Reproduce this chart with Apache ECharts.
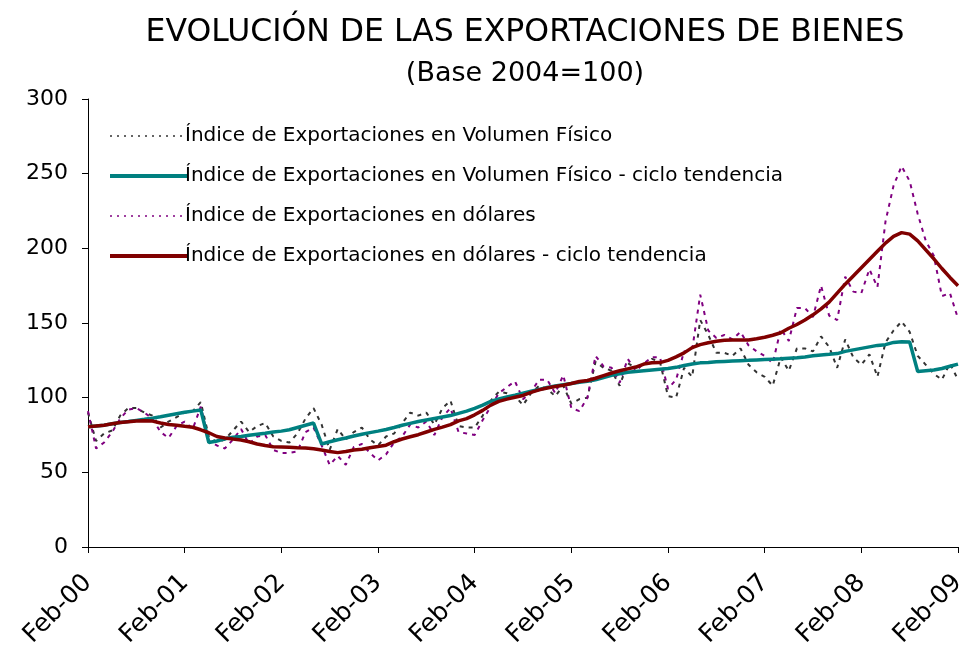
<!DOCTYPE html>
<html>
<head>
<meta charset="UTF-8">
<title>Evolución de las exportaciones de bienes</title>
<script src="https://cdn.jsdelivr.net/npm/echarts@6/dist/echarts.min.js"></script>
<style>
body { margin: 0; padding: 0; background: #fff; }
#main { width: 959px; height: 649px; }
</style>
</head>
<body>
<div id="main"></div>
<script>
// etiquetas mensuales Feb-00 ... Feb-09
var meses = ['Jan','Feb','Mar','Apr','May','Jun','Jul','Aug','Sep','Oct','Nov','Dec'];
var categorias = [];
for (var i = 0; i < 109; i++) {
    var m = (1 + i) % 12, a = 2000 + Math.floor((1 + i) / 12);
    categorias.push(meses[m] + '-' + String(a).slice(2));
}

var volumen = [90,71,76,78,88,93,93,90,88,80,84,87,90,91,97,74,70,
    72,78,84,77,81,83,74,71,70,76,86,93,82,65,79,72,77,80,72,68,74,76,
    83,90,88,90,82,93,98,81,80,
    80,88,98,104,103,101,95,103,108,106,101,108,96,99,100,
    124,120,118,108,123,120,122,126,124,101,100,120,114,152,142,
    130,130,128,133,122,117,114,108,127,118,133,133,131,141,134,120,
    139,127,122,129,114,137,145,151,144,128,122,116,112,123,112];

var volumenTendencia = [80.5,81,81.6,82.5,83.3,84,84.8,85.5,86.3,87.2,88.2,89.2,90.2,91,91.8,
    70,71,72.5,73.5,74,74.8,75.5,76.2,77,77.6,78.5,80,81.5,83,
    69,70.5,71.8,73,74.3,75.5,76.6,77.6,78.7,80,81.5,82.8,84,85,86,87,88,89.5,91,92.8,95,97.5,
    99.2,100.5,101.7,103,104.3,105.5,106.8,107.8,108.7,109.5,110.3,111,112,113.5,115,116,117,
    117.5,118,118.5,119,119.5,120.3,121.5,122.5,123.3,123.5,124,124.3,124.6,124.8,125,125.3,
    125.6,125.8,126,126.4,126.8,127.3,128,128.6,129,129.5,131,132,133,134,135,135.5,137,137.5,137.3,
    117.5,118,118.5,119.5,121,122.5];

var dolares = [91,66,70,77,86,92,93,90,86,77,73,81,84,79,94,71,68,
    66,72,79,69,74,75,65,63,63,64,77,80,68,55,61,55,67,69,63,58,62,70,
    74,82,80,84,75,87,93,77,76,
    75,85,94,103,107,111,99,104,112,112,103,115,93,91,100,
    128,121,120,110,126,118,123,127,127,106,112,131,132,169,145,
    140,142,139,144,135,131,128,123,146,138,160,160,154,175,155,152,
    181,171,170,186,174,218,242,255,245,223,205,195,168,170,153];

var dolaresTendencia = [80.5,81,81.5,82.5,83.3,83.8,84.3,84.5,84.3,83,82,81.5,80.8,80.2,78.5,
    76.5,74,73,72.3,71.7,70.5,69,68,67.2,67,66.8,66.5,66.3,65.8,65,64,63.2,64,65,65.5,66.5,
    67.3,68.2,70.5,72.3,73.8,75.2,77,78.8,80.3,82,84.5,86,88.5,91.5,95,97.5,99,100.3,101.5,
    103.5,105.2,106.5,107.5,108.3,109.5,110.8,111.5,113,114.8,116.5,118,119.3,120.5,122.5,
    123.4,123.5,125,127.3,130,133.5,135.5,136.8,137.8,138.5,138.6,138.6,138.6,139.5,140.5,
    141.8,143.5,146.5,149,152,155.5,159.5,164,170,176,181.5,187,192.5,198,203.5,208,210.5,
    209.5,205,199,193,186.5,180.5,175];

var nombres = ['Índice de Exportaciones en Volumen Físico',
    'Índice de Exportaciones en Volumen Físico - ciclo tendencia',
    'Índice de Exportaciones en dólares',
    'Índice de Exportaciones en dólares - ciclo tendencia'];

var fuente = 'DejaVu Sans';
var myChart = echarts.init(document.getElementById('main'));
var option = {
    animation: false,
    title: {
        text: 'EVOLUCIÓN DE LAS EXPORTACIONES DE BIENES',
        subtext: '(Base 2004=100)',
        left: 520, textAlign: 'center', top: 12, itemGap: 11,
        textStyle: { fontFamily: fuente, fontSize: 31.5, fontWeight: 'normal', color: '#000' },
        subtextStyle: { fontFamily: fuente, fontSize: 27, color: '#000' }
    },
    legend: {
        orient: 'vertical',
        left: 103, top: 121,
        itemWidth: 78, itemHeight: 14, itemGap: 20,
        itemStyle: { opacity: 0 },
        textStyle: { fontFamily: fuente, fontSize: 20, color: '#000', padding: [0, 0, 0, -8] },
        data: [
            { name: nombres[0], lineStyle: { width: 1.5, type: [2, 5] } },
            { name: nombres[1], lineStyle: { width: 4 } },
            { name: nombres[2], lineStyle: { width: 1.5, type: [2, 5] } },
            { name: nombres[3], lineStyle: { width: 4 } }
        ]
    },
    grid: { left: 88, right: 1, top: 99, bottom: 102, outerBoundsMode: 'none' },
    xAxis: {
        type: 'category',
        data: categorias,
        boundaryGap: false,
        axisLine: { lineStyle: { color: '#000', width: 1 } },
        axisTick: { interval: 11, length: 6, lineStyle: { color: '#000' } },
        axisLabel: { interval: 11, rotate: 45, margin: 32, fontFamily: fuente, fontSize: 25, color: '#000' },
        splitLine: { show: false }
    },
    yAxis: {
        type: 'value',
        min: 0, max: 300, interval: 50,
        axisLine: { show: true, lineStyle: { color: '#000', width: 1 } },
        axisTick: { show: true, length: 6, lineStyle: { color: '#000' } },
        axisLabel: { margin: 20, fontFamily: fuente, fontSize: 22, color: '#000' },
        splitLine: { show: false }
    },
    series: [
        { name: nombres[0], type: 'line', data: volumen, symbol: 'none', z: 2,
          itemStyle: { color: '#333333' },
          lineStyle: { color: '#333333', width: 2, type: [4, 5] } },
        { name: nombres[1], type: 'line', data: volumenTendencia, symbol: 'none', z: 4,
          itemStyle: { color: '#008080' },
          lineStyle: { color: '#008080', width: 3.5 } },
        { name: nombres[2], type: 'line', data: dolares, symbol: 'none', z: 3,
          itemStyle: { color: '#800080' },
          lineStyle: { color: '#800080', width: 2, type: [4, 5] } },
        { name: nombres[3], type: 'line', data: dolaresTendencia, symbol: 'none', z: 5,
          itemStyle: { color: '#800000' },
          lineStyle: { color: '#800000', width: 3.5 } }
    ]
};
myChart.setOption(option);
</script>
</body>
</html>
